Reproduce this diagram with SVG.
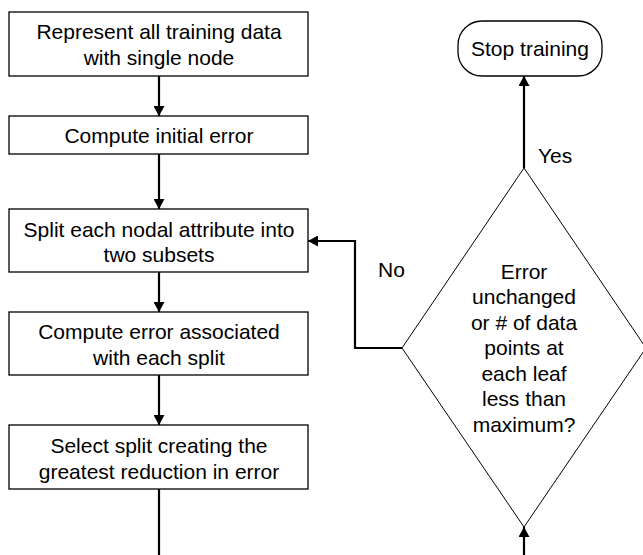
<svg xmlns="http://www.w3.org/2000/svg" width="643" height="555" viewBox="0 0 643 555">
<style>
.box{fill:#fff;stroke:#000;stroke-width:1.3}
.dia{fill:#fff;stroke:#000;stroke-width:1}
.t{font-family:"Liberation Sans",Arial,sans-serif;font-size:21px;fill:#000;text-anchor:middle}
.lbl{font-family:"Liberation Sans",Arial,sans-serif;font-size:21px;fill:#000}
.c{fill:none;stroke:#000;stroke-width:2.2}
</style>
<defs>
<marker id="ah" markerUnits="userSpaceOnUse" markerWidth="10" markerHeight="11" refX="10" refY="5.5" orient="auto">
<path d="M0,0 L10,5.5 L0,11 z" fill="#000"/>
</marker>
</defs>
<g id="connectors">
<line class="c" x1="159" y1="76" x2="159" y2="116" marker-end="url(#ah)"/>
<line class="c" x1="159" y1="154" x2="159" y2="209" marker-end="url(#ah)"/>
<line class="c" x1="159" y1="272" x2="159" y2="312" marker-end="url(#ah)"/>
<line class="c" x1="159" y1="375" x2="159" y2="425" marker-end="url(#ah)"/>
<line class="c" x1="159" y1="489" x2="159" y2="556"/>
<line class="c" x1="524" y1="556" x2="524" y2="527" marker-end="url(#ah)"/>
<polyline class="c" points="402,348 355,348 355,241 308,241" marker-end="url(#ah)"/>
<line class="c" x1="524" y1="168" x2="524" y2="76" marker-end="url(#ah)"/>
<text class="lbl" x="538" y="163">Yes</text>
<text class="lbl" x="378" y="277">No</text>
</g>
<g id="n1">
<rect class="box" x="9" y="12" width="299" height="64"/>
<text class="t" x="159" y="39">Represent all training data</text>
<text class="t" x="159" y="65">with single node</text>
</g>
<g id="n2">
<rect class="box" x="9" y="116" width="299" height="38"/>
<text class="t" x="159" y="143">Compute initial error</text>
</g>
<g id="n3">
<rect class="box" x="9" y="209" width="299" height="63"/>
<text class="t" x="159" y="237">Split each nodal attribute into</text>
<text class="t" x="159" y="262">two subsets</text>
</g>
<g id="n4">
<rect class="box" x="9" y="312" width="299" height="63"/>
<text class="t" x="159" y="339">Compute error associated</text>
<text class="t" x="159" y="365">with each split</text>
</g>
<g id="n5">
<rect class="box" x="9" y="425" width="299" height="64"/>
<text class="t" x="159" y="453">Select split creating the</text>
<text class="t" x="159" y="479">greatest reduction in error</text>
</g>
<g id="stop">
<rect class="box" x="458" y="21" width="144" height="55" rx="24" ry="24"/>
<text class="t" x="530" y="56">Stop training</text>
</g>
<g id="decision">
<polygon class="dia" points="524,168 646,348 524,527 402,348"/>
<text class="t" x="524" y="279">Error</text>
<text class="t" x="524" y="304">unchanged</text>
<text class="t" x="524" y="330">or # of data</text>
<text class="t" x="524" y="355">points at</text>
<text class="t" x="524" y="381">each leaf</text>
<text class="t" x="524" y="406">less than</text>
<text class="t" x="524" y="432">maximum?</text>
</g>
</svg>
